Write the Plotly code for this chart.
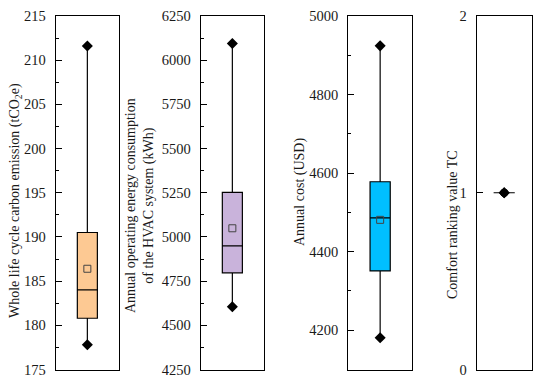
import plotly.graph_objects as go

# ---- data ----
panel_names = ["carbon", "energy", "cost", "comfort"]
q1_vals = [180.8, 4797, 4351, 1]
median_vals = [184.0, 4949, 4486, 1]
q3_vals = [190.5, 5252, 4578, 1]
lower_vals = [177.8, 4605, 4181, 1]
upper_vals = [211.6, 6094, 4924, 1]
mean_vals = [186.4, 5049, 4481, 1]
titles = [
    "Whole life cycle carbon emission (tCO<sub>2</sub>e)",
    "Annual operating energy consumption<br>of the HVAC system (kWh)",
    "Annual cost (USD)",
    "Comfort ranking value TC",
]

# ---- styles ----
OFF = 8  # default page body margin
W, H = 550 - OFF, 383 - OFF
def px_x(v):
    return (v - OFF) / W
def px_y(v):
    return 1 - (v - OFF) / H

fills = ["#FDC993", "#C9B3DB", "#00BFFF", "#FFFFFF"]
x_px = [(55.7, 119.0), (200.7, 264.0), (348.3, 412.0), (476.7, 531.7)]
y_dom = [px_y(369.5), px_y(16)]
y_ranges = [[175, 215], [4250, 6250], [4100, 5000], [0, 2]]
y_dticks = [5, 250, 200, 1]
y_tick0 = [175, 4250, 4200, 0]
minor_dticks = [2.5, 125, 100, None]
x_ranges = [[-1.5, 1.5], [-1.5, 1.5], [-1.5, 1.5], [-1.3, 1.3]]
box_w = [0.95, 0.95, 0.95, 1.0]
title_x = [15, 140, 300, 452]
title_y = [201, 206, 192, 225]
FONT = "Liberation Serif"

fig = go.Figure()
layout = dict(
    width=W, height=H, margin=dict(l=0, r=0, t=0, b=0, autoexpand=False),
    paper_bgcolor="white", plot_bgcolor="white", showlegend=False,
    font=dict(family=FONT, size=14, color="#1a1a1a"),
)
annotations = []
for i in range(4):
    sfx = "" if i == 0 else str(i + 1)
    xa, ya = "x" + sfx, "y" + sfx
    fig.add_trace(go.Box(
        x=[0], q1=[q1_vals[i]], median=[median_vals[i]], q3=[q3_vals[i]],
        lowerfence=[lower_vals[i]], upperfence=[upper_vals[i]],
        width=box_w[i], fillcolor=fills[i], line=dict(color="black", width=1.2),
        whiskerwidth=0, boxpoints=False, hoverinfo="skip",
        xaxis=xa, yaxis=ya,
    ))
    fig.add_trace(go.Scatter(
        x=[0, 0], y=[lower_vals[i], upper_vals[i]], mode="markers",
        marker=dict(symbol="diamond", size=8.5, color="black",
                    line=dict(color="black", width=0)),
        xaxis=xa, yaxis=ya, hoverinfo="skip",
    ))
    fig.add_trace(go.Scatter(
        x=[0], y=[mean_vals[i]], mode="markers",
        marker=dict(symbol="square-open", size=7, color="#444444",
                    line=dict(width=1)) if i < 3 else
        dict(symbol="circle", size=8, color="black"),
        xaxis=xa, yaxis=ya, hoverinfo="skip",
    ))
    x0, x1 = x_px[i]
    layout["xaxis" + sfx] = dict(
        domain=[px_x(x0), px_x(x1)], range=x_ranges[i], anchor=ya,
        showticklabels=False, ticks="", showgrid=False, zeroline=False,
        showline=True, linecolor="black", linewidth=1.2, mirror=True,
        fixedrange=True, automargin=False,
    )
    ydict = dict(
        domain=y_dom, range=y_ranges[i], anchor=xa,
        tickmode="linear", tick0=y_tick0[i], dtick=y_dticks[i],
        ticks="inside", ticklen=6, tickwidth=1, tickcolor="black",
        showgrid=False, zeroline=False, automargin=False,
        showline=True, linecolor="black", linewidth=1.2, mirror=True,
        tickfont=dict(family=FONT, size=14.5, color="#1a1a1a"),
        ticklabelstandoff=6,
    )
    if minor_dticks[i] is not None:
        ydict["minor"] = dict(ticks="inside", ticklen=3, dtick=minor_dticks[i],
                              tick0=y_tick0[i], tickcolor="black", showgrid=False)
    layout["yaxis" + sfx] = ydict
    annotations.append(dict(
        text=titles[i], textangle=-90, xref="paper", yref="paper",
        x=px_x(title_x[i]), y=px_y(title_y[i]), xanchor="center", yanchor="middle",
        showarrow=False, font=dict(family=FONT, size=14, color="#1a1a1a"),
    ))
layout["annotations"] = annotations
fig.update_layout(**layout)
fig.write_html("out.html")
